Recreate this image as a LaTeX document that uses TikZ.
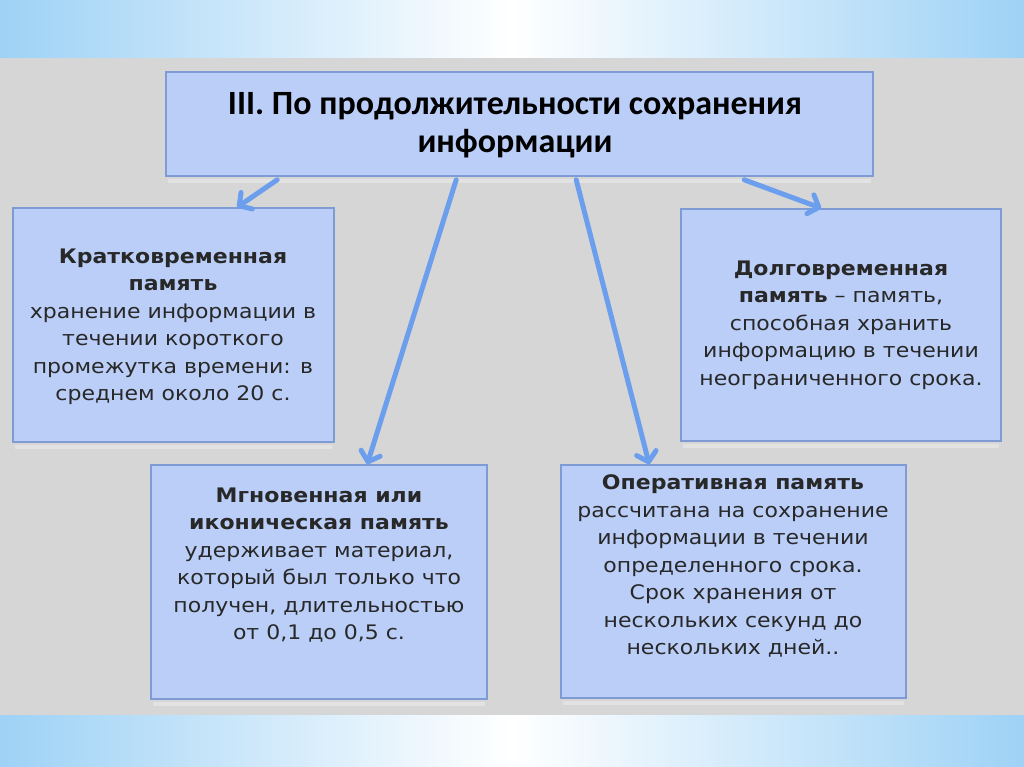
\documentclass[tikz,border=0pt]{standalone}
\usepackage{fontspec}
\setmainfont{DejaVu Sans}[FakeStretch=1.1]
\newfontfamily\titlefont{Carlito}
\usetikzlibrary{arrows.meta,calc}
\definecolor{bggray}{RGB}{214,214,214}
\definecolor{skyedge}{RGB}{158,210,246}
\definecolor{boxfill}{RGB}{186,206,248}
\definecolor{boxline}{RGB}{126,155,212}
\definecolor{arrowblue}{RGB}{108,158,238}
\definecolor{txt}{RGB}{40,40,40}
\tikzset{
  panel/.style={draw=boxline, line width=1.6pt, fill=boxfill, inner sep=0pt},
  body/.style={align=center, text=txt, font=\fontsize{20}{27.5}\selectfont, inner sep=0pt},
  link/.style={draw=arrowblue, line width=5pt, line cap=round, line join=round,
    -{Straight Barb[length=9pt,width=20pt,line cap=round,line join=round]}},
}
\begin{document}
\begin{tikzpicture}[x=1pt,y=-1pt]
\useasboundingbox (0,0) rectangle (1024,767);
% background bands
\shade[left color=skyedge, right color=skyedge, middle color=white] (0,0) rectangle (1024,58);
\fill[bggray] (0,58) rectangle (1024,715);
\shade[left color=skyedge, right color=skyedge, middle color=white] (0,715) rectangle (1024,767);
% faint shadows
\foreach \a/\b/\c in {166/873/176, 13/334/442, 681/1001/441, 151/487/699, 561/906/698}{
  \fill[white!30!bggray] (\a+2,\c+3) rectangle (\b-2,\c+7);
}
% boxes
\node[panel, minimum width=707pt, minimum height=104pt] (title) at (519.5,124) {};
\node[panel, minimum width=321pt, minimum height=234pt] (short) at (173.5,325) {};
\node[panel, minimum width=320pt, minimum height=232pt] (long) at (841,325) {};
\node[panel, minimum width=336pt, minimum height=234pt] (icon) at (319,582) {};
\node[panel, minimum width=345pt, minimum height=233pt] (oper) at (733.5,581.5) {};
% texts
\node[align=center, text=black, inner sep=0pt, font=\titlefont\bfseries\fontsize{34}{38}\selectfont] (titletext) at (515,125)
  {III. По продолжительности сохранения\\информации};
\node[body] (shorttext) at (173,327)
  {\textbf{Кратковременная}\\\textbf{память}\\хранение информации в\\течении короткого\\промежутка времени: в\\среднем около 20 с.};
\node[body] (longtext) at (841,325)
  {\textbf{Долговременная}\\\textbf{память} -- память,\\способная хранить\\информацию в течении\\неограниченного срока.};
\node[body] (icontext) at (319,565)
  {\textbf{Мгновенная или}\\\textbf{иконическая память}\\удерживает материал,\\который был только что\\получен, длительностью\\от 0,1 до 0,5 с.};
\node[body] (opertext) at (733,566)
  {\textbf{Оперативная память}\\рассчитана на сохранение\\информации в течении\\определенного срока.\\Срок хранения от\\нескольких секунд до\\нескольких дней..};
% arrows
\draw[link] ([xshift=112pt,yshift=-3pt]title.south west) -- ([xshift=225pt]short.north west);
\draw[link] ([xshift=291pt,yshift=-3pt]title.south west) -- ([xshift=217pt]icon.north west);
\draw[link] ([xshift=411pt,yshift=-3pt]title.south west) -- ([xshift=89pt]oper.north west);
\draw[link] ([xshift=579pt,yshift=-3pt]title.south west) -- ([xshift=141pt]long.north west);
\end{tikzpicture}
\end{document}
